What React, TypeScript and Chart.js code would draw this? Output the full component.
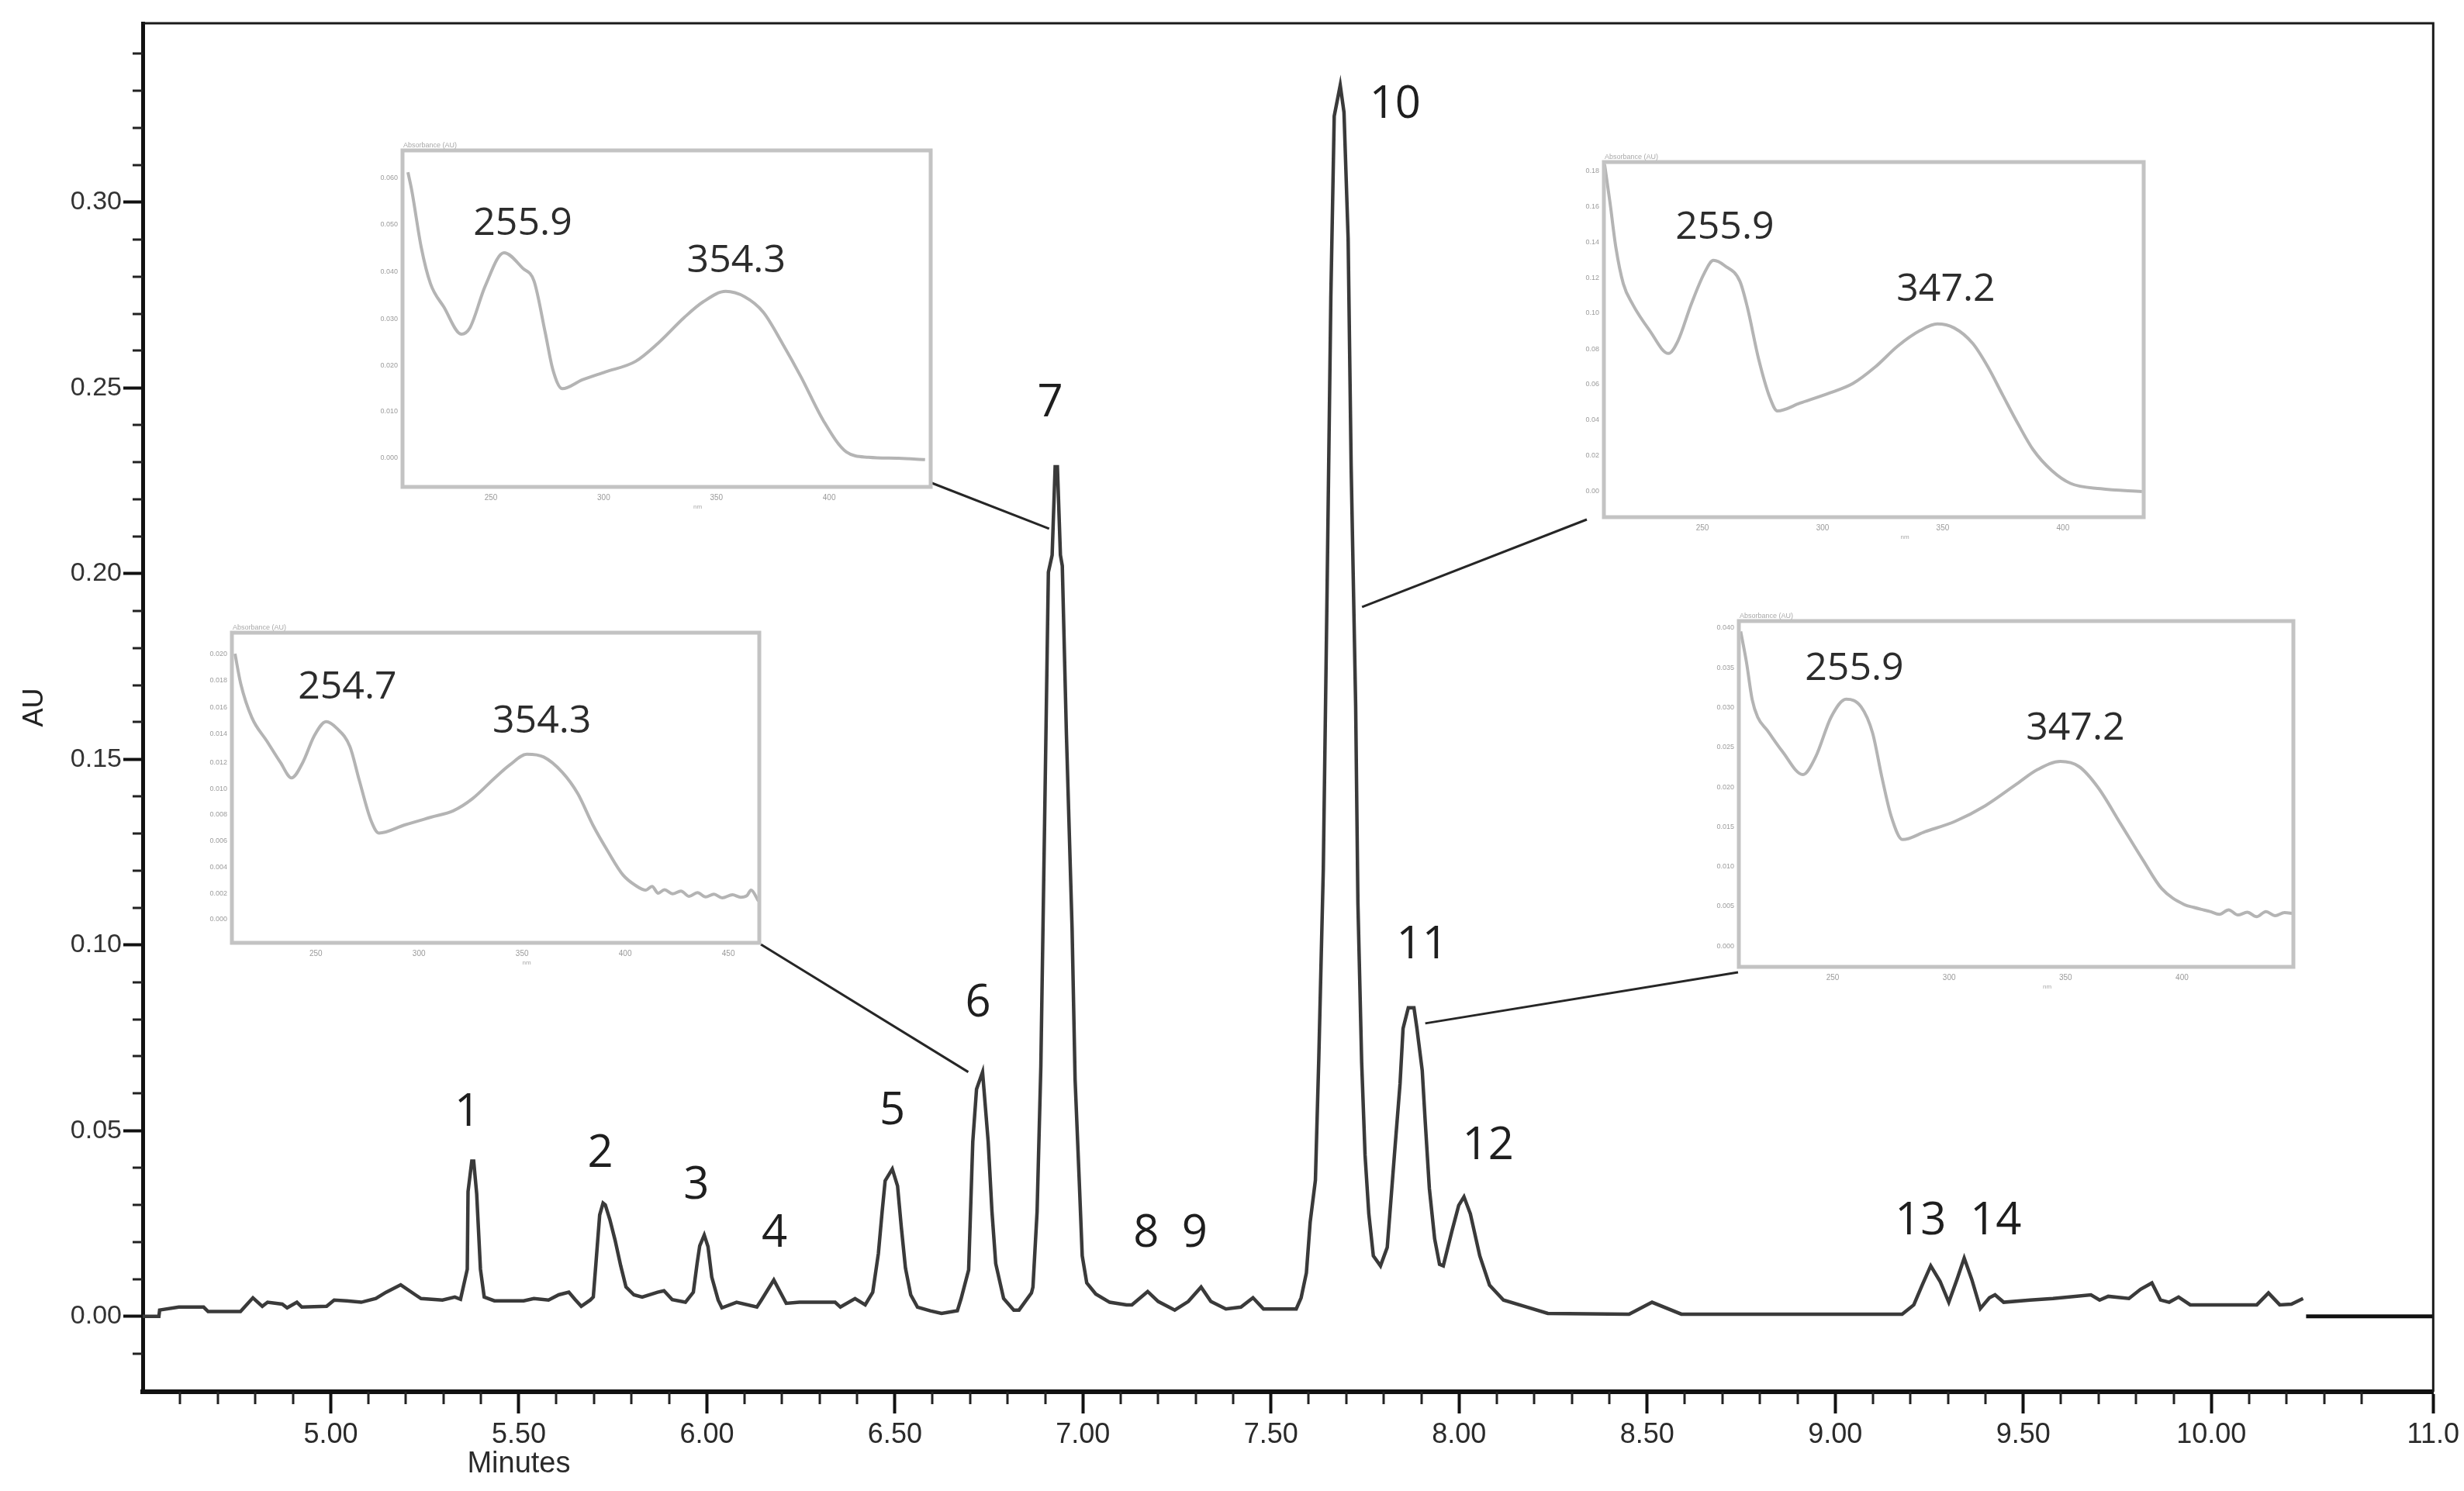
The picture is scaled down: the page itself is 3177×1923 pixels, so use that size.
import React, { useEffect, useRef } from "react";
import { Chart, registerables } from "chart.js";

Chart.register(...registerables);

const W = 3177;
const H = 1923;

// ---------------- chromatogram data ----------------
const retentionTime = [
  4.5, 4.543, 4.545, 4.596, 4.662, 4.674, 4.76, 4.793, 4.818, 4.832, 4.871, 4.884, 4.91, 4.923, 4.989, 5.009,
  5.042, 5.081, 5.12, 5.147, 5.186, 5.225, 5.24, 5.297, 5.33, 5.345, 5.363, 5.365, 5.375, 5.38, 5.388, 5.398,
  5.408, 5.435, 5.513, 5.54, 5.579, 5.606, 5.633, 5.65, 5.666, 5.69, 5.698, 5.705, 5.715, 5.724, 5.73, 5.742,
  5.756, 5.771, 5.785, 5.806, 5.828, 5.869, 5.886, 5.908, 5.943, 5.964, 5.974, 5.981, 5.993, 6.003, 6.013, 6.03,
  6.04, 6.079, 6.133, 6.145, 6.178, 6.211, 6.246, 6.262, 6.341, 6.355, 6.394, 6.421, 6.441, 6.456, 6.466, 6.474,
  6.493, 6.507, 6.517, 6.528, 6.542, 6.56, 6.594, 6.624, 6.666, 6.676, 6.696, 6.707, 6.717, 6.733, 6.748, 6.758,
  6.768, 6.789, 6.816, 6.83, 6.863, 6.867, 6.878, 6.888, 6.898, 6.908, 6.918, 6.926, 6.932, 6.94, 6.945, 6.956,
  6.971, 6.979, 6.99, 6.998, 7.01, 7.034, 7.071, 7.116, 7.13, 7.172, 7.2, 7.244, 7.28, 7.314, 7.34, 7.38,
  7.42, 7.452, 7.48, 7.567, 7.58, 7.594, 7.604, 7.618, 7.627, 7.639, 7.649, 7.659, 7.668, 7.684, 7.694, 7.705,
  7.713, 7.725, 7.731, 7.741, 7.75, 7.76, 7.772, 7.791, 7.809, 7.828, 7.843, 7.851, 7.865, 7.88, 7.888, 7.902,
  7.91, 7.921, 7.935, 7.948, 7.958, 7.981, 7.999, 8.013, 8.03, 8.055, 8.081, 8.118, 8.174, 8.236, 8.452, 8.513,
  8.591, 9.178, 9.209, 9.232, 9.254, 9.279, 9.302, 9.324, 9.343, 9.363, 9.386, 9.41, 9.425, 9.448, 9.518, 9.579,
  9.68, 9.703, 9.726, 9.781, 9.812, 9.842, 9.865, 9.888, 9.913, 9.944, 10.121, 10.152, 10.182, 10.213, 10.244,
];
const absorbanceAU = [
  0.0, 0.0, 0.0017, 0.0025, 0.0025, 0.0013, 0.0013, 0.005, 0.0027, 0.0038, 0.0033, 0.0023, 0.0038, 0.0025, 0.0027, 0.0044,
  0.0042, 0.0038, 0.0048, 0.0065, 0.0085, 0.0058, 0.0048, 0.0044, 0.0052, 0.0046, 0.0127, 0.0336, 0.0418, 0.0418, 0.033, 0.0127,
  0.0052, 0.0042, 0.0042, 0.0048, 0.0044, 0.0058, 0.0065, 0.0045, 0.0027, 0.0044, 0.0052, 0.0142, 0.0273, 0.0305, 0.03, 0.0261,
  0.0205, 0.0136, 0.0079, 0.0058, 0.0052, 0.0065, 0.0069, 0.0045, 0.0038, 0.0065, 0.0142, 0.019, 0.0219, 0.0188, 0.0106, 0.0044,
  0.0023, 0.0038, 0.0025, 0.0044, 0.0098, 0.0035, 0.0038, 0.0038, 0.0038, 0.0025, 0.0048, 0.0031, 0.0065, 0.0169, 0.0282, 0.0365,
  0.0397, 0.0351, 0.024, 0.013, 0.0058, 0.0025, 0.0015, 0.0008, 0.0015, 0.0048, 0.0125, 0.047, 0.0612, 0.0658, 0.047, 0.0282,
  0.0142, 0.0048, 0.0017, 0.0017, 0.0063, 0.0079, 0.0282, 0.0674, 0.1332, 0.2004, 0.205, 0.2288, 0.2288, 0.205, 0.2021, 0.1566,
  0.1046, 0.0639, 0.0367, 0.0163, 0.009, 0.006, 0.0038, 0.0031, 0.0031, 0.0067, 0.004, 0.0017, 0.004, 0.0079, 0.004, 0.002,
  0.0025, 0.005, 0.002, 0.002, 0.005, 0.0117, 0.0253, 0.0367, 0.0695, 0.1205, 0.1952, 0.2743, 0.3232, 0.3315, 0.3242, 0.2902,
  0.229, 0.1645, 0.1113, 0.0683, 0.0434, 0.0276, 0.0163, 0.0136, 0.0186, 0.0434, 0.0626, 0.0775, 0.0831, 0.0831, 0.0775, 0.0662,
  0.0524, 0.0344, 0.0209, 0.014, 0.0136, 0.023, 0.0299, 0.0322, 0.0276, 0.0163, 0.0084, 0.0044, 0.0027, 0.0008, 0.0006, 0.0038,
  0.0006, 0.0006, 0.0031, 0.0086, 0.0136, 0.0094, 0.0038, 0.01, 0.0157, 0.01, 0.0021, 0.005, 0.0058, 0.0038, 0.0044, 0.0048,
  0.0058, 0.0044, 0.0054, 0.0048, 0.0073, 0.009, 0.0044, 0.0038, 0.0052, 0.0031, 0.0031, 0.0063, 0.0031, 0.0033, 0.0048,
];
const zeroLineTime = [10.252, 10.59];
const zeroLineAU = [0, 0];

const X_MIN = 4.5;
const X_MAX = 10.59;
const Y_MIN = -0.0203;
const Y_MAX = 0.3482;
const xTickValues = [5.0, 5.5, 6.0, 6.5, 7.0, 7.5, 8.0, 8.5, 9.0, 9.5, 10.0, 10.59];
const xTickLabels = ["5.00", "5.50", "6.00", "6.50", "7.00", "7.50", "8.00", "8.50", "9.00", "9.50", "10.00", "11.0"];
const yTickValues = [0, 0.05, 0.1, 0.15, 0.2, 0.25, 0.3];
const yTickLabels = ["0.00", "0.05", "0.10", "0.15", "0.20", "0.25", "0.30"];

const peakNumbers = ["1", "2", "3", "4", "5", "6", "7", "8", "9", "10", "11", "12", "13", "14"];
const peakLabelTime = [5.363, 5.717, 5.972, 6.18, 6.493, 6.721, 6.913, 7.168, 7.297, 7.83, 7.902, 8.077, 9.227, 9.427];
const peakLabelAU = [0.0547, 0.0436, 0.0351, 0.0221, 0.0551, 0.0841, 0.2457, 0.0221, 0.0221, 0.3261, 0.0998, 0.0457, 0.0255, 0.0255];

const connectorPeakTime = [6.91, 6.695, 7.742, 7.91];
const connectorPeakAU = [0.2121, 0.0658, 0.191, 0.0789];

// ---------------- UV spectra (insets) ----------------
const spectrumA_nm = [213.2, 214.9, 219.1, 223.2, 229.1, 236.9, 240.7, 247.4, 255.8, 264.1, 269.1, 274.1, 277.4, 281.6, 290.7, 300.8, 314.1, 324.1, 335.8, 344.1, 354.1, 362.5, 370.8, 379.2, 387.5, 397.5, 407.6, 417.5, 430.8, 442.5];
const spectrumA_abs = [0.935, 0.881, 0.712, 0.604, 0.535, 0.454, 0.473, 0.596, 0.696, 0.65, 0.612, 0.458, 0.35, 0.292, 0.319, 0.342, 0.373, 0.427, 0.504, 0.55, 0.581, 0.565, 0.519, 0.427, 0.327, 0.196, 0.104, 0.088, 0.085, 0.081];
const spectrumA_peaks = ["255.9", "354.3"];
const spectrumA_peakNm = [264.1, 358.8];
const spectrumA_peakAbs = [0.782, 0.671];
const spectrumA_yTicks = [0.087, 0.224, 0.361, 0.498, 0.639, 0.781, 0.918];
const spectrumA_yLabels = ["0.000", "0.010", "0.020", "0.030", "0.040", "0.050", "0.060"];
const spectrumA_xTicks = [250, 300, 350, 400];

const spectrumB_nm = [210.8, 213.6, 219.0, 226.3, 232.8, 238.2, 243.7, 249.2, 255.0, 260.1, 266.5, 271.1, 276.6, 280.6, 293.0, 305.8, 316.7, 325.8, 336.8, 344.1, 352.3, 360.5, 369.6, 377.0, 384.3, 391.6, 398.9, 405.0, 410.0, 413.0, 416.0, 419.0, 423.0, 427.0, 431.0, 435.0, 439.0, 443.0, 447.0, 452.0, 456.0, 459.0, 461.0, 464.6];
const spectrumB_abs = [0.932, 0.835, 0.726, 0.65, 0.582, 0.532, 0.582, 0.667, 0.713, 0.692, 0.633, 0.523, 0.397, 0.354, 0.38, 0.405, 0.426, 0.464, 0.532, 0.574, 0.608, 0.599, 0.549, 0.481, 0.38, 0.295, 0.219, 0.185, 0.17, 0.182, 0.16, 0.171, 0.158, 0.167, 0.15, 0.162, 0.148, 0.157, 0.145, 0.155, 0.147, 0.152, 0.17, 0.135];
const spectrumB_peaks = ["254.7", "354.3"];
const spectrumB_peakNm = [265.3, 359.6];
const spectrumB_peakAbs = [0.823, 0.713];
const spectrumB_yTicks = [0.076, 0.159, 0.243, 0.329, 0.413, 0.496, 0.582, 0.673, 0.759, 0.846, 0.932];
const spectrumB_yLabels = ["0.000", "0.002", "0.004", "0.006", "0.008", "0.010", "0.012", "0.014", "0.016", "0.018", "0.020"];
const spectrumB_xTicks = [250, 300, 350, 400, 450];

const spectrumC_nm = [209.3, 211.6, 214.0, 217.1, 221.0, 228.0, 235.9, 239.8, 245.3, 250.7, 254.6, 259.3, 265.6, 268.7, 273.4, 278.1, 281.2, 290.6, 303.1, 312.5, 321.9, 331.3, 340.7, 347.7, 354.7, 362.5, 368.8, 375.0, 381.3, 387.6, 395.4, 403.2, 415.7, 432.9];
const spectrumC_abs = [0.993, 0.883, 0.759, 0.657, 0.599, 0.526, 0.461, 0.496, 0.599, 0.686, 0.723, 0.708, 0.664, 0.591, 0.445, 0.336, 0.299, 0.321, 0.35, 0.376, 0.423, 0.482, 0.526, 0.544, 0.533, 0.489, 0.423, 0.343, 0.263, 0.19, 0.131, 0.095, 0.08, 0.072];
const spectrumC_peaks = ["255.9", "347.2"];
const spectrumC_peakNm = [259.3, 351.3];
const spectrumC_peakAbs = [0.816, 0.641];
const spectrumC_yTicks = [0.074, 0.174, 0.273, 0.374, 0.472, 0.575, 0.674, 0.774, 0.875, 0.974];
const spectrumC_yLabels = ["0.00", "0.02", "0.04", "0.06", "0.08", "0.10", "0.12", "0.14", "0.16", "0.18"];
const spectrumC_xTicks = [250, 300, 350, 400];

const spectrumD_nm = [210.5, 213.0, 215.4, 217.8, 221.9, 228.3, 237.2, 242.8, 249.3, 255.8, 262.2, 267.1, 271.1, 275.1, 280.0, 289.7, 302.6, 315.5, 328.4, 338.1, 347.8, 355.8, 363.9, 373.6, 383.3, 391.3, 401.0, 405.0, 409.0, 412.0, 416.0, 420.0, 424.0, 428.0, 432.0, 436.0, 440.0, 444.0, 447.8];
const spectrumD_abs = [0.97, 0.88, 0.774, 0.722, 0.684, 0.624, 0.556, 0.609, 0.722, 0.774, 0.752, 0.677, 0.549, 0.436, 0.368, 0.391, 0.421, 0.466, 0.526, 0.571, 0.594, 0.579, 0.519, 0.414, 0.308, 0.226, 0.18, 0.172, 0.165, 0.16, 0.152, 0.165, 0.15, 0.158, 0.145, 0.16, 0.148, 0.157, 0.154];
const spectrumD_peaks = ["255.9", "347.2"];
const spectrumD_peakNm = [259.3, 354.2];
const spectrumD_peakAbs = [0.861, 0.688];
const spectrumD_yTicks = [0.06, 0.175, 0.29, 0.405, 0.52, 0.635, 0.75, 0.865, 0.98];
const spectrumD_yLabels = ["0.000", "0.005", "0.010", "0.015", "0.020", "0.025", "0.030", "0.035", "0.040"];
const spectrumD_xTicks = [250, 300, 350, 400];

// ---------------- layout ----------------
const NARROW = '"Liberation Sans Narrow", "Liberation Sans", Arial, sans-serif';
const LABEL_FONT = '"Open Sans", "Noto Sans", sans-serif';
const PAD_L = 46;
const PAD_T = 22;
const PAD_R = 6;
const PAD_B = 34;

type InsetSpec = {
  left: number; top: number; right: number; bottom: number;
  xMin: number; xMax: number;
  nm: number[]; abs: number[];
  peaks: string[]; peakNm: number[]; peakAbs: number[];
  yTicks: number[]; yLabels: string[]; xTicks: number[];
  anchor: [number, number];
};

const INSETS: InsetSpec[] = [
  { left: 519, top: 194, right: 1200, bottom: 628, xMin: 210.8, xMax: 445, nm: spectrumA_nm, abs: spectrumA_abs, peaks: spectrumA_peaks, peakNm: spectrumA_peakNm, peakAbs: spectrumA_peakAbs, yTicks: spectrumA_yTicks, yLabels: spectrumA_yLabels, xTicks: spectrumA_xTicks, anchor: [1199, 622] },
  { left: 299, top: 816, right: 979, bottom: 1216, xMin: 209.3, xMax: 465, nm: spectrumB_nm, abs: spectrumB_abs, peaks: spectrumB_peaks, peakNm: spectrumB_peakNm, peakAbs: spectrumB_peakAbs, yTicks: spectrumB_yTicks, yLabels: spectrumB_yLabels, xTicks: spectrumB_xTicks, anchor: [981, 1218] },
  { left: 2068, top: 209, right: 2764, bottom: 667, xMin: 209, xMax: 433.6, nm: spectrumC_nm, abs: spectrumC_abs, peaks: spectrumC_peaks, peakNm: spectrumC_peakNm, peakAbs: spectrumC_peakAbs, yTicks: spectrumC_yTicks, yLabels: spectrumC_yLabels, xTicks: spectrumC_xTicks, anchor: [2046, 670] },
  { left: 2242, top: 801, right: 2957, bottom: 1247, xMin: 209.7, xMax: 447.8, nm: spectrumD_nm, abs: spectrumD_abs, peaks: spectrumD_peaks, peakNm: spectrumD_peakNm, peakAbs: spectrumD_peakAbs, yTicks: spectrumD_yTicks, yLabels: spectrumD_yLabels, xTicks: spectrumD_xTicks, anchor: [2241, 1254] },
];

function makeInset(canvas: HTMLCanvasElement, s: InsetSpec): Chart {
  const insetDecor = {
    id: "insetDecor",
    afterDraw(chart: any) {
      const { ctx, chartArea: a, scales } = chart;
      ctx.save();
      ctx.strokeStyle = "#c3c3c3";
      ctx.lineWidth = 5;
      ctx.strokeRect(a.left, a.top, a.right - a.left, a.bottom - a.top);
      // small header tag
      ctx.fillStyle = "#a8a8a8";
      ctx.font = `9px ${NARROW}`;
      ctx.textAlign = "left";
      ctx.textBaseline = "bottom";
      ctx.fillText("Absorbance (AU)", a.left + 1, a.top - 2);
      ctx.font = `8px ${NARROW}`;
      ctx.textAlign = "center";
      ctx.textBaseline = "top";
      ctx.fillText("nm", (a.left + a.right) / 2 + 40, a.bottom + 22);
      // peak wavelength labels
      ctx.fillStyle = "#2c2c2c";
      ctx.font = `50px ${LABEL_FONT}`;
      ctx.textBaseline = "middle";
      s.peaks.forEach((p, i) => {
        ctx.fillText(p, scales.x.getPixelForValue(s.peakNm[i]), scales.y.getPixelForValue(s.peakAbs[i]));
      });
      ctx.restore();
    },
  };
  return new Chart(canvas, {
    type: "line",
    data: {
      datasets: [
        {
          data: s.nm.map((w, i) => ({ x: w, y: s.abs[i] })),
          borderColor: "#b4b4b4",
          borderWidth: 4,
          pointRadius: 0,
          cubicInterpolationMode: "monotone",
          fill: false,
        },
      ],
    },
    options: {
      responsive: false,
      animation: false,
      devicePixelRatio: 1,
      layout: { padding: { top: PAD_T, right: PAD_R, left: 0, bottom: 0 } },
      plugins: { legend: { display: false }, tooltip: { enabled: false } },
      scales: {
        x: {
          type: "linear",
          min: s.xMin,
          max: s.xMax,
          afterBuildTicks: (sc: any) => { sc.ticks = s.xTicks.map((v) => ({ value: v })); },
          afterFit: (sc: any) => { sc.height = PAD_B; },
          ticks: { autoSkip: false, maxRotation: 0, padding: 8, color: "#9a9a9a", font: { size: 10, family: NARROW } },
          grid: { display: false, drawTicks: false },
          border: { display: false },
        },
        y: {
          type: "linear",
          min: 0,
          max: 1,
          afterBuildTicks: (sc: any) => { sc.ticks = s.yTicks.map((v) => ({ value: v })); },
          afterFit: (sc: any) => { sc.width = PAD_L; },
          ticks: { autoSkip: false, padding: 6, color: "#9c9c9c", font: { size: 9, family: NARROW }, callback: (_v: any, i: number) => s.yLabels[i] },
          grid: { display: false, drawTicks: false },
          border: { display: false },
        },
      },
    } as any,
    plugins: [insetDecor],
  });
}

export default function App() {
  const mainRef = useRef<HTMLCanvasElement | null>(null);
  const insetRefs = useRef<(HTMLCanvasElement | null)[]>([]);

  useEffect(() => {
    const canvas = mainRef.current;
    if (!canvas) return;

    const decor = {
      id: "decor",
      afterDraw(chart: any) {
        const { ctx, chartArea: a, scales } = chart;
        const x = scales.x;
        const y = scales.y;
        ctx.save();
        ctx.strokeStyle = "#1a1a1a";
        ctx.lineWidth = 3;
        ctx.beginPath();
        ctx.moveTo(a.left, a.top);
        ctx.lineTo(a.right, a.top);
        ctx.lineTo(a.right, a.bottom);
        ctx.stroke();
        // minor ticks
        ctx.lineWidth = 3;
        ctx.strokeStyle = "#222";
        for (let k = 46; k <= 105; k++) {
          if (k % 5 === 0) continue;
          const px = Math.round(x.getPixelForValue(k / 10));
          ctx.beginPath();
          ctx.moveTo(px, a.bottom);
          ctx.lineTo(px, a.bottom + 16);
          ctx.stroke();
        }
        for (let k = -1; k <= 34; k++) {
          if (k % 5 === 0) continue;
          const py = Math.round(y.getPixelForValue(k / 100));
          ctx.beginPath();
          ctx.moveTo(a.left - 13, py);
          ctx.lineTo(a.left, py);
          ctx.stroke();
        }
        // connectors from insets to peaks
        ctx.strokeStyle = "#262626";
        ctx.lineWidth = 3;
        INSETS.forEach((s, i) => {
          ctx.beginPath();
          ctx.moveTo(s.anchor[0], s.anchor[1]);
          ctx.lineTo(x.getPixelForValue(connectorPeakTime[i]), y.getPixelForValue(connectorPeakAU[i]));
          ctx.stroke();
        });
        // peak numbers
        ctx.fillStyle = "#1e1e1e";
        ctx.font = `58px ${LABEL_FONT}`;
        ctx.textAlign = "center";
        ctx.textBaseline = "middle";
        peakNumbers.forEach((p, i) => {
          ctx.fillText(p, x.getPixelForValue(peakLabelTime[i]), y.getPixelForValue(peakLabelAU[i]));
        });
        // x-axis title
        ctx.fillStyle = "#2a2a2a";
        ctx.font = `38px ${NARROW}`;
        ctx.textBaseline = "top";
        ctx.fillText("Minutes", x.getPixelForValue(5.5), 1870);
        ctx.restore();
      },
    };

    const chart = new Chart(canvas, {
      type: "line",
      data: {
        datasets: [
          {
            data: retentionTime.map((t, i) => ({ x: t, y: absorbanceAU[i] })),
            borderColor: "#3a3a3a",
            borderWidth: 4.5,
            pointRadius: 0,
            tension: 0,
            fill: false,
          },
          {
            data: zeroLineTime.map((t, i) => ({ x: t, y: zeroLineAU[i] })),
            borderColor: "#111",
            borderWidth: 5,
            pointRadius: 0,
            fill: false,
          },
        ],
      },
      options: {
        responsive: false,
        animation: false,
        devicePixelRatio: 1,
        layout: { padding: { top: 30, right: 34, left: 0, bottom: 0 } },
        plugins: { legend: { display: false }, tooltip: { enabled: false } },
        scales: {
          x: {
            type: "linear",
            min: X_MIN,
            max: X_MAX,
            afterBuildTicks: (sc: any) => { sc.ticks = xTickValues.map((v) => ({ value: v })); },
            afterFit: (sc: any) => { sc.height = H - 1795; },
            ticks: { autoSkip: false, maxRotation: 0, padding: 6, color: "#2b2b2b", font: { size: 36, family: NARROW }, callback: (_v: any, i: number) => xTickLabels[i] },
            grid: { drawOnChartArea: false, drawTicks: true, tickLength: 28, tickWidth: 4, tickColor: "#111", color: "#111" },
            border: { display: true, color: "#111", width: 6 },
          },
          y: {
            type: "linear",
            min: Y_MIN,
            max: Y_MAX,
            afterBuildTicks: (sc: any) => { sc.ticks = yTickValues.map((v) => ({ value: v })); },
            afterFit: (sc: any) => { sc.width = 184; },
            ticks: { autoSkip: false, padding: 2, color: "#333", font: { size: 34, family: NARROW }, callback: (_v: any, i: number) => yTickLabels[i] },
            grid: { drawOnChartArea: false, drawTicks: true, tickLength: 25, tickWidth: 4, tickColor: "#111", color: "#111" },
            border: { display: true, color: "#111", width: 5 },
            title: { display: true, text: "AU", color: "#222", font: { size: 36, family: NARROW }, padding: { top: 23, bottom: 0 } },
          },
        },
      } as any,
      plugins: [decor],
    });

    const insets = INSETS.map((s, i) => {
      const c = insetRefs.current[i];
      return c ? makeInset(c, s) : null;
    });

    return () => {
      chart.destroy();
      insets.forEach((c) => c && c.destroy());
    };
  }, []);

  return (
    <div style={{ position: "absolute", left: 0, top: 0, width: W, height: H, background: "#fff", overflow: "hidden" }}>
      <canvas ref={mainRef} width={W} height={H} style={{ position: "absolute", left: 0, top: 0 }} />
      {INSETS.map((s, i) => (
        <canvas
          key={i}
          ref={(el) => { insetRefs.current[i] = el; }}
          width={s.right - s.left + PAD_L + PAD_R}
          height={s.bottom - s.top + PAD_T + PAD_B}
          style={{ position: "absolute", left: s.left - PAD_L, top: s.top - PAD_T }}
        />
      ))}
    </div>
  );
}
